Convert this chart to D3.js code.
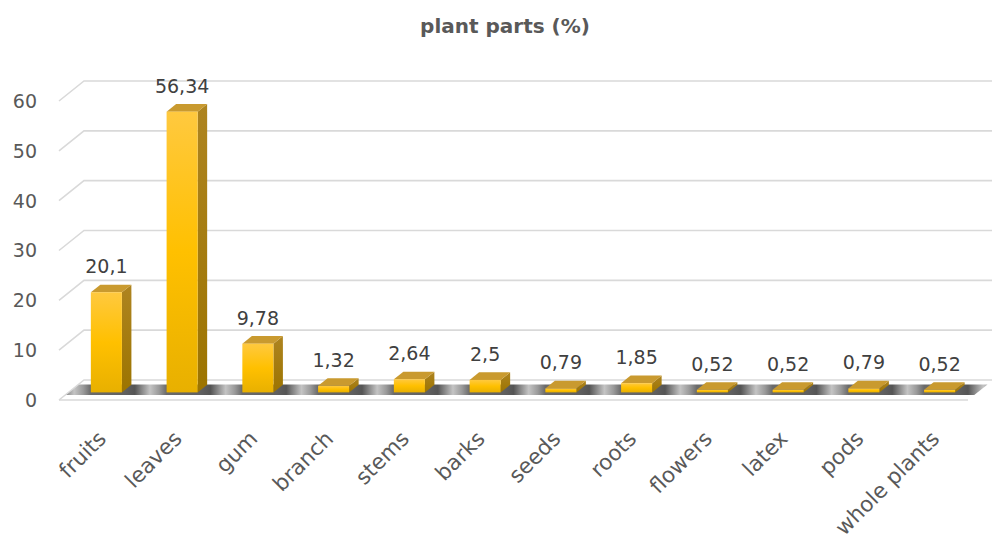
<!DOCTYPE html>
<html>
<head>
<meta charset="utf-8">
<script src="https://cdn.jsdelivr.net/npm/d3@7/dist/d3.min.js"></script>
<style>
  html, body { margin: 0; padding: 0; background: #ffffff; }
  svg { display: block; }
  text { font-family: "DejaVu Sans", "Liberation Sans", sans-serif; }
</style>
</head>
<body>
<svg id="chart" width="992" height="543"></svg>
<script>
// Share of medicinal uses by plant part (%)
const categories = ["fruits", "leaves", "gum", "branch", "stems", "barks", "seeds",
                    "roots", "flowers", "latex", "pods", "whole plants"];
const values = [20.1, 56.34, 9.78, 1.32, 2.64, 2.5, 0.79, 1.85, 0.52, 0.52, 0.79, 0.52];
const valueLabels = ["20,1", "56,34", "9,78", "1,32", "2,64", "2,5", "0,79", "1,85",
                     "0,52", "0,52", "0,79", "0,52"];
const yTicks = [0, 10, 20, 30, 40, 50, 60];
const title = "plant parts (%)";

const svg = d3.select("#chart");

// Oblique projection: depth d in [0,1] shifts a point right and up
const DEPTH_X = 25, DEPTH_Y = 20;
const x = d3.scaleBand().domain(categories).range([59, 968])
  .paddingInner(0.59).paddingOuter(0.295);
const y = d3.scaleLinear().domain([0, 60]).range([400, 101]);
const proj = (px, v, d) => [px + DEPTH_X * d, y(v) - DEPTH_Y * d];

const barFront = 0.38, barBack = 0.76;   // bar depth inside the plot box
const defs = svg.append("defs");

// Bar face gradients
const gFront = defs.append("linearGradient").attr("id", "barFront")
  .attr("x1", 0).attr("y1", 0).attr("x2", 0).attr("y2", 1);
gFront.append("stop").attr("offset", "0%").attr("stop-color", "#FFC93F");
gFront.append("stop").attr("offset", "50%").attr("stop-color", "#FFC000");
gFront.append("stop").attr("offset", "100%").attr("stop-color", "#E8B000");

const gSide = defs.append("linearGradient").attr("id", "barSide")
  .attr("x1", 0).attr("y1", 0).attr("x2", 0).attr("y2", 1);
gSide.append("stop").attr("offset", "0%").attr("stop-color", "#AE8420");
gSide.append("stop").attr("offset", "100%").attr("stop-color", "#9C7400");

// Floor band shading, repeating once per category step
const step = x.step();
const firstBar = proj(x(categories[0]), 0, barFront)[0];
const gFloor = defs.append("linearGradient").attr("id", "floorShade")
  .attr("gradientUnits", "userSpaceOnUse").attr("spreadMethod", "repeat")
  .attr("x1", firstBar).attr("y1", 0).attr("x2", firstBar + step).attr("y2", 0);
[[0, "#6a6a6a"], [0.45, "#606060"], [0.58, "#555555"], [0.78, "#c4c4c4"], [0.9, "#9a9a9a"], [1, "#6a6a6a"]]
  .forEach(([o, c]) => gFloor.append("stop").attr("offset", o).attr("stop-color", c));

const gridColor = "#d9d9d9";
const line = d3.line();

// Floor band
const bandD0 = 0.25, bandD1 = 0.78;
const [xl, xr] = x.range();
svg.append("path")
  .attr("d", line([proj(xl, 0, bandD0), proj(xr, 0, bandD0), proj(xr, 0, bandD1), proj(xl, 0, bandD1)]) + "Z")
  .attr("fill", "url(#floorShade)");

// Gridlines: left-wall diagonal then across the back wall
yTicks.forEach(v => {
  svg.append("path")
    .attr("d", line([proj(xl, v, 0), proj(xl, v, 1), proj(xr, v, 1)]))
    .attr("fill", "none").attr("stroke", gridColor).attr("stroke-width", 1.6);
});
// Floor front edge
svg.append("path")
  .attr("d", line([proj(xl, 0, 0), proj(xr, 0, 0)]))
  .attr("fill", "none").attr("stroke", gridColor).attr("stroke-width", 1.6);

// Y axis labels
svg.append("g").selectAll("text").data(yTicks).join("text")
  .attr("x", 37).attr("y", d => y(d)).attr("dy", "0.36em")
  .attr("text-anchor", "end").attr("font-size", 19).attr("fill", "#595959")
  .text(d => d);

// Bars (front, side, top faces)
const bw = x.bandwidth();
const ddx = DEPTH_X * (barBack - barFront), ddy = DEPTH_Y * (barBack - barFront);
const bars = svg.append("g").selectAll("g").data(categories).join("g");
bars.each(function (c, i) {
  const g = d3.select(this);
  const [x0, yTop] = proj(x(c), values[i], barFront);
  const [, yBot] = proj(x(c), 0, barFront);
  const x1 = x0 + bw;
  g.append("path")
    .attr("d", line([[x1, yBot], [x1 + ddx, yBot - ddy], [x1 + ddx, yTop - ddy], [x1, yTop]]) + "Z")
    .attr("fill", "url(#barSide)");
  g.append("path")
    .attr("d", line([[x0, yTop], [x1, yTop], [x1 + ddx, yTop - ddy], [x0 + ddx, yTop - ddy]]) + "Z")
    .attr("fill", "#C99A2F");
  g.append("rect")
    .attr("x", x0).attr("y", yTop).attr("width", bw).attr("height", yBot - yTop)
    .attr("fill", "url(#barFront)");
  g.append("text")
    .attr("x", x0 + bw / 2).attr("y", yTop - 19)
    .attr("text-anchor", "middle").attr("font-size", 19).attr("fill", "#404040")
    .text(valueLabels[i]);
});

// Category labels, rotated
svg.append("g").selectAll("text").data(categories).join("text")
  .attr("transform", d => {
    const cx = proj(x(d), 0, barFront)[0] + bw / 2 + 1;
    return `translate(${cx},440) rotate(-45)`;
  })
  .attr("text-anchor", "end").attr("font-size", 21.5).attr("fill", "#595959")
  .text(d => d);

// Title
svg.append("text")
  .attr("x", 505).attr("y", 33).attr("text-anchor", "middle")
  .attr("font-size", 20).attr("font-weight", "bold").attr("fill", "#595959")
  .text(title);
</script>
</body>
</html>
